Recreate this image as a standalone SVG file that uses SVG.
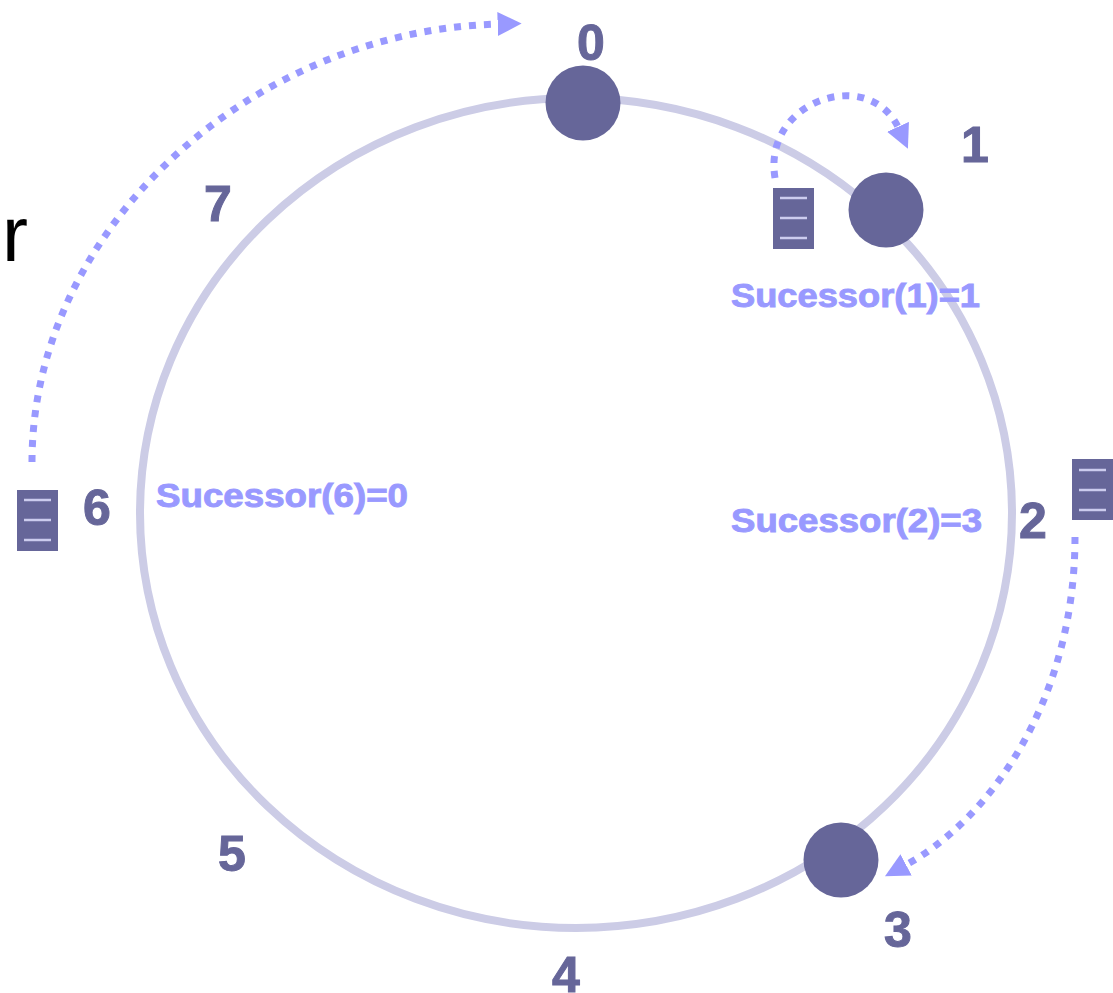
<svg xmlns="http://www.w3.org/2000/svg" width="1113" height="993" viewBox="0 0 1113 993">
<style>
.ring{fill:none;stroke:#CCCCE6;stroke-width:8}
.node{fill:#666699}
.num{font-family:"Liberation Sans",Arial,sans-serif;font-weight:bold;font-size:50px;fill:#666699;stroke:#666699;stroke-width:1;text-anchor:middle}
.succ{font-family:"Liberation Sans",Arial,sans-serif;font-weight:bold;font-size:33px;fill:#9999FF;stroke:#9999FF;stroke-width:0.9}
.doc{fill:#666699}
.docline{stroke:#CCCCEE;stroke-width:2.5}
.conn{fill:none;stroke:#9999FF;stroke-width:7;stroke-dasharray:7 8;marker-end:url(#arr)}
</style>
<defs>
<marker id="arr" viewBox="0 0 10 10" refX="1" refY="5" markerWidth="24" markerHeight="25" markerUnits="userSpaceOnUse" orient="auto">
<path d="M0,0 L10,5 L0,10 z" fill="#9999FF"/>
</marker>
</defs>
<rect width="1113" height="993" fill="#FFFFFF"/>
<g id="ring">
<ellipse class="ring" cx="576" cy="513" rx="436" ry="415"/>
</g>
<text x="2" y="261" font-family="'Liberation Sans',Arial,sans-serif" font-size="78" fill="#000000">r</text>
<g id="connectors">
<path class="conn" d="M32,462 C32,230 250,30 500,24"/>
<path class="conn" d="M775,178 C762,100 870,65 899,129"/>
<path class="conn" d="M1075,537 C1075,700 990,820 904,866"/>
</g>
<g id="node0">
<circle class="node" cx="583" cy="103" r="37.5"/>
<text class="num" x="591" y="60">0</text>
</g>
<g id="node1">
<circle class="node" cx="886" cy="210" r="37.5"/>
<text class="num" x="975" y="162">1</text>
<rect class="doc" x="773" y="188" width="41" height="61"/>
<line class="docline" x1="780" y1="198" x2="807" y2="198"/>
<line class="docline" x1="780" y1="218" x2="807" y2="218"/>
<line class="docline" x1="780" y1="238" x2="807" y2="238"/>
<text class="succ" x="731" y="307" textLength="249" lengthAdjust="spacingAndGlyphs">Sucessor(1)=1</text>
</g>
<g id="node3">
<circle class="node" cx="841" cy="860" r="37.5"/>
<text class="num" x="898" y="947">3</text>
</g>
<g id="id2">
<text class="num" x="1033" y="538">2</text>
<rect class="doc" x="1072" y="459" width="41" height="61"/>
<line class="docline" x1="1079" y1="470" x2="1106" y2="470"/>
<line class="docline" x1="1079" y1="490" x2="1106" y2="490"/>
<line class="docline" x1="1079" y1="510" x2="1106" y2="510"/>
<text class="succ" x="731" y="532" textLength="251" lengthAdjust="spacingAndGlyphs">Sucessor(2)=3</text>
</g>
<g id="id6">
<text class="num" x="97" y="525">6</text>
<rect class="doc" x="17" y="490" width="41" height="61"/>
<line class="docline" x1="24" y1="500" x2="51" y2="500"/>
<line class="docline" x1="24" y1="520" x2="51" y2="520"/>
<line class="docline" x1="24" y1="540" x2="51" y2="540"/>
<text class="succ" x="156" y="507" textLength="252" lengthAdjust="spacingAndGlyphs">Sucessor(6)=0</text>
</g>
<g id="id4"><text class="num" x="566" y="992">4</text></g>
<g id="id5"><text class="num" x="232" y="871">5</text></g>
<g id="id7"><text class="num" x="218" y="221">7</text></g>
</svg>
